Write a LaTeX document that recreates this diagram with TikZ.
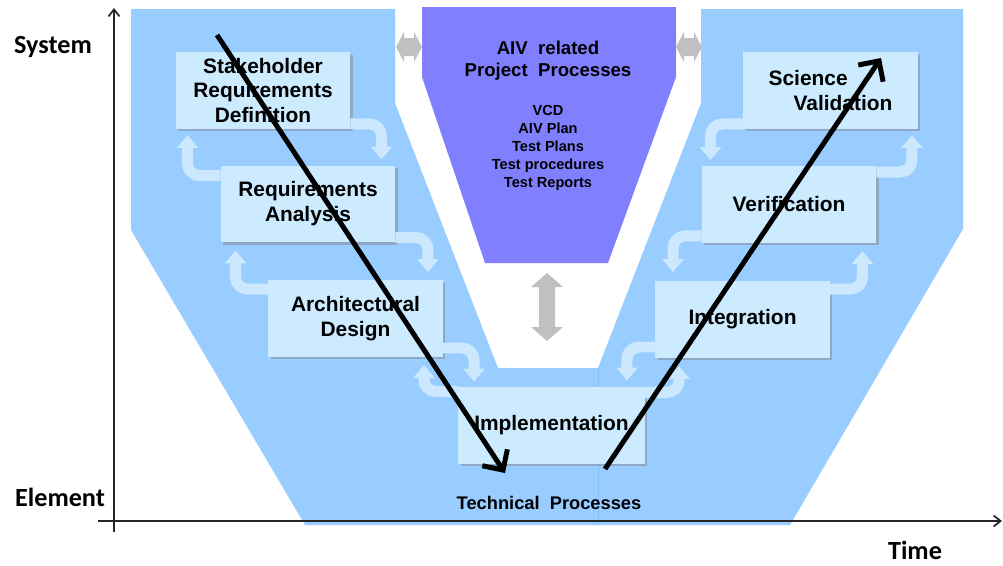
\documentclass[tikz,border=0pt]{standalone}
\usepackage{fontspec}
\setmainfont{Liberation Sans}
\newfontfamily\calfont{Carlito}
\usetikzlibrary{arrows.meta,calc,shadows}
\definecolor{bgblue}{HTML}{99CCFF}
\definecolor{seamblue}{HTML}{86BFF5}
\definecolor{boxblue}{HTML}{CCEBFF}
\definecolor{turnblue}{HTML}{CCE8FF}
\definecolor{aivpurple}{HTML}{8080FF}
\definecolor{grayarrow}{HTML}{C0C0C0}
\begin{document}
\begin{tikzpicture}[x=0.02cm,y=-0.02cm,
  procbox/.style={draw=none, fill=boxblue, minimum width=3.5cm, minimum height=1.54cm,
    inner sep=0pt, outer sep=0pt, align=center,
    font=\fontsize{11.9}{14.2}\selectfont\bfseries,
    drop shadow={shadow xshift=0.05cm, shadow yshift=-0.05cm, opacity=0.45}},
  turn/.style={draw=turnblue, line width=0.22cm, rounded corners=0.24cm,
    -{Triangle[length=0.26cm,width=0.42cm]}},
  vline/.style={draw=black, line width=0.1cm, -{Straight Barb[length=0.3cm,width=0.6cm]}},
  axis/.style={draw=black!85, line width=0.035cm, -{Straight Barb[length=0.14cm,width=0.22cm]}},
  axlabel/.style={font=\calfont\fontsize{14.9}{16}\selectfont\bfseries, inner sep=0pt},
  gshape/.style={fill=grayarrow, draw=none},
]
\useasboundingbox (0,0) rectangle (1003,565);

% background V
\fill[bgblue] (131,9) -- (395,9) -- (395,103) -- (498,368) -- (598,368) -- (598,525)
  -- (305,525) -- (131,230) -- cycle;
\fill[bgblue] (598,368) -- (598,525) -- (790,525) -- (963,229) -- (963,9) -- (701,9)
  -- (701,103) -- cycle;
\draw[seamblue, line width=0.012cm] (598,368) -- (598,525);

% AIV trapezoid
\fill[aivpurple] (422,7) -- (676,7) -- (676,77) -- (608,263) -- (485,263) -- (422,77) -- cycle;

% gray double arrows
\fill[gshape] (396,47) -- (404,32) -- (404,38) -- (414,38) -- (414,32) -- (422,47)
  -- (414,62) -- (414,56) -- (404,56) -- (404,62) -- cycle;
\fill[gshape] (676,47) -- (684,32) -- (684,38) -- (694,38) -- (694,32) -- (702,47)
  -- (694,62) -- (694,56) -- (684,56) -- (684,62) -- cycle;
\fill[gshape] (547,273) -- (563,287) -- (555,287) -- (555,327) -- (563,327) -- (547,341)
  -- (531,327) -- (539,327) -- (539,287) -- (531,287) -- cycle;

% boxes
\node[procbox] (sh) at (263,90.5) {Stakeholder\\Requirements\\Definition};
\node[procbox] (ra) at (308,204) {Requirements\\Analysis};
\node[procbox] (ar) at (355.5,318.5) {Architectural\\Design};
\node[procbox, minimum width=3.74cm] (im) at (551.5,425) {Implementation};
\node[procbox] (in) at (742.5,319.5) {Integration};
\node[procbox] (ve) at (789,204.5) {Verification};
\node[procbox, align=left] (sv) at (830.5,90.5) {Science\\\hspace*{0.5cm}Validation};

% turn arrows (left side)
\draw[turn] ($(sh.south east)+(0,-5)$) -| ($(ra.north east)+(-14,-6)$);
\draw[turn] ($(ra.north west)+(0,10)$) -| ($(sh.south west)+(12,6)$);
\draw[turn] ($(ra.south east)+(0,-5)$) -| ($(ar.north east)+(-15,-8)$);
\draw[turn] ($(ar.north west)+(0,9)$) -| ($(ra.south west)+(15,8)$);
\draw[turn] ($(ar.south east)+(0,-9)$) -| ($(im.north west)+(16,-5)$);
\draw[turn] ($(im.north west)+(0,5)$) -| ($(ar.south east)+(-19,8)$);
% turn arrows (right side)
\draw[turn] ($(in.south west)+(0,-11)$) -| ($(im.north east)+(-18,-6)$);
\draw[turn] ($(im.north east)+(0,6)$) -| ($(in.south west)+(24,8)$);
\draw[turn] ($(ve.south west)+(0,-7)$) -| ($(in.north west)+(18,-9)$);
\draw[turn] ($(in.north east)+(0,8)$) -| ($(ve.south east)+(-14,8)$);
\draw[turn] ($(sv.south west)+(0,-5)$) -| ($(ve.north west)+(9,-6)$);
\draw[turn] ($(ve.north east)+(0,6)$) -| ($(sv.south east)+(-6,6)$);

% texts
\node[font=\fontsize{10.6}{12.5}\selectfont\bfseries, align=center] (aivtitle) at (548,61)
  {AIV~~related\\Project~~Processes};
\node[font=\fontsize{8.3}{10.2}\selectfont\bfseries, align=center] (aivlist) at (548,148)
  {VCD\\AIV Plan\\Test Plans\\Test procedures\\Test Reports};
\node[font=\fontsize{10.4}{12}\selectfont\bfseries] (tech) at (549,503) {Technical~~Processes};

% big black arrows
\coordinate (la1) at (217,35);
\coordinate (la2) at (505,473);
\coordinate (ra1) at (605,469);
\coordinate (ra2) at (881,58);
\draw[vline] (la1) -- (la2);
\draw[vline] (ra1) -- (ra2);

% axes
\coordinate (o1) at (114,532);
\coordinate (o2) at (114,8);
\coordinate (h1) at (98,521);
\coordinate (h2) at (1002,521);
\draw[axis] (o1) -- (o2);
\draw[axis] (h1) -- (h2);
\node[axlabel] (sys) at (53,47) {System};
\node[axlabel] (ele) at (60,497) {Element};
\node[axlabel] (tim) at (915,550) {Time};
\end{tikzpicture}
\end{document}
